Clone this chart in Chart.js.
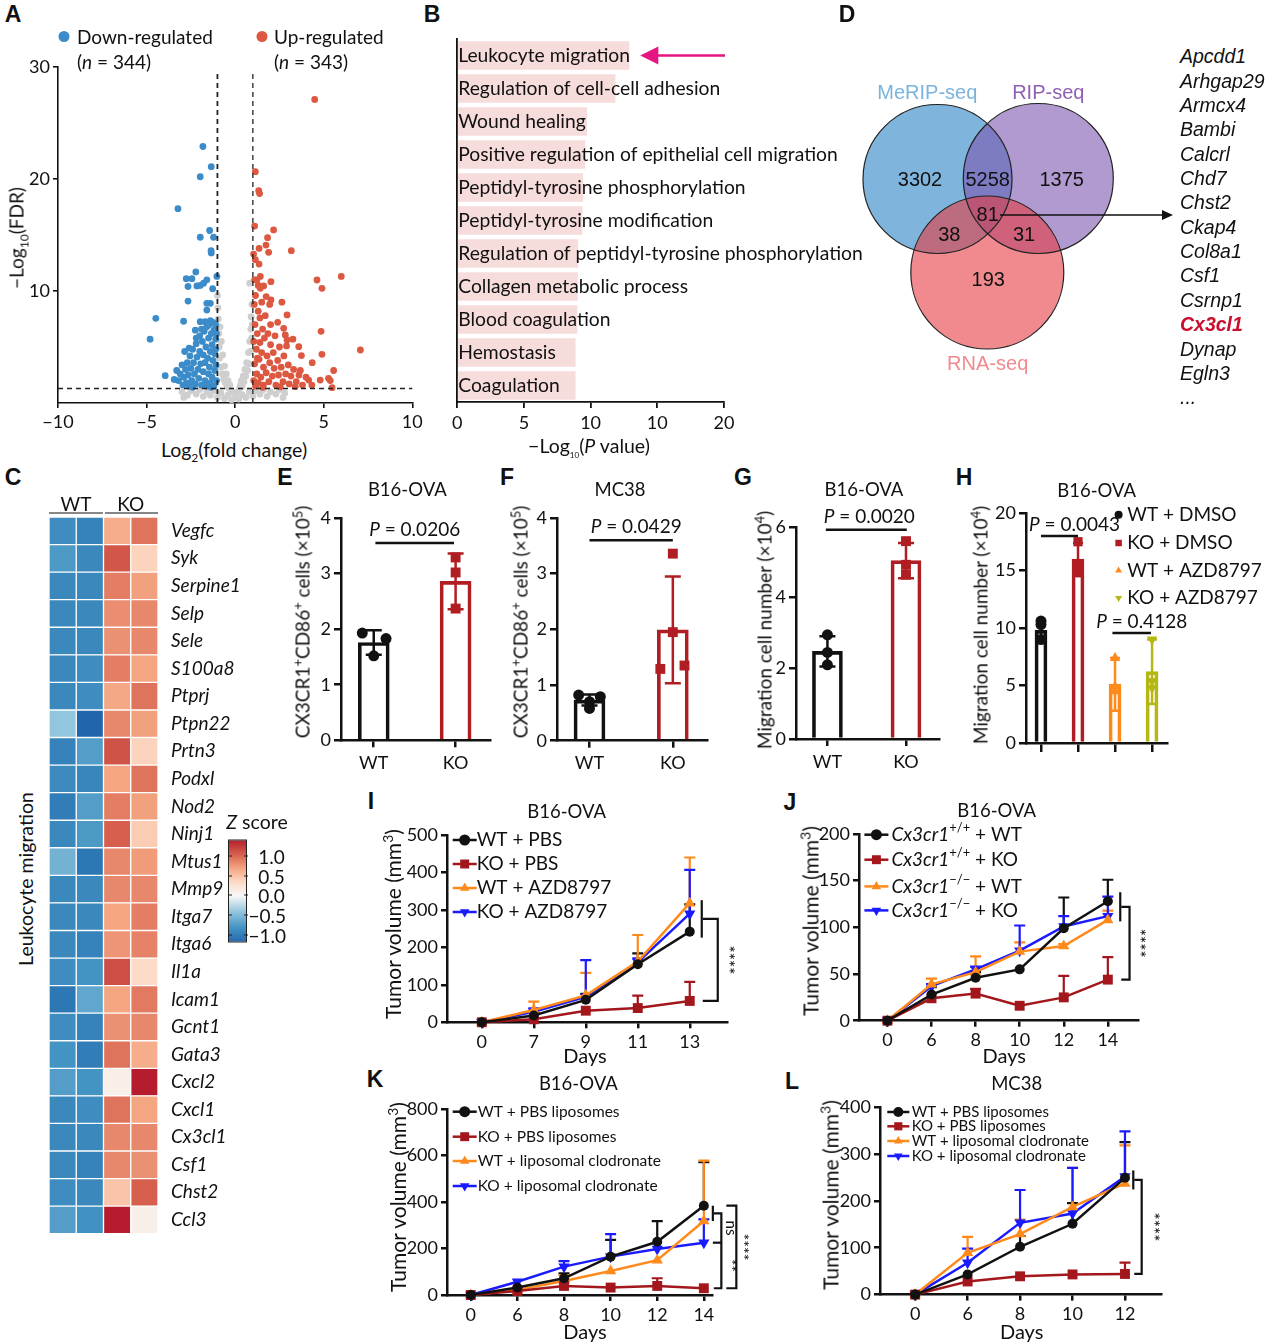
<!DOCTYPE html>
<html lang="en">
<head>
<meta charset="UTF-8" />
<title>Cx3cl1 figure</title>
<script src="https://cdn.jsdelivr.net/npm/chart.js"></script>
<style>
  body { margin: 0; background: #fff; }
  #fig { position: relative; width: 1271px; height: 1344px; overflow: hidden; background: #fff;
         font-family: Lato, "Open Sans", sans-serif; color: #111; }
  #fig canvas { position: absolute; }
  .t { position: absolute; white-space: nowrap; line-height: 1; z-index: 5; }
  .L { font-family: "Liberation Sans", Arial, sans-serif; font-weight: bold; font-size: 23px; }
  .ar { font-family: "Liberation Sans", Arial, sans-serif; }
  sub, sup { line-height: 0; }
</style>
</head>
<body>
<div id="fig"></div>
<script>
// ---------- A: volcano ----------
const volcanoDown = [
  [-1.82,22.9],[-1.35,21.1],[-1.97,20.2],[-3.23,17.35],[-1.44,15.4],[-1.97,14.8],[-1.22,14.8],[-1.36,13.6],[-1.35,13.4],
  [-2.22,11.7],[-2.76,11.1],[-2.44,11.1],[-1.6,11.0],[-1.03,11.3],[-2.16,10.45],[-1.97,10.5],[-1.78,10.7],[-2.66,10.4],
  [-1.27,10.2],[-2.66,9.1],[-1.6,8.9],[-1.4,8.9],[-1.6,8.3],[-4.48,7.56],[-2.91,7.3],[-1.97,7.26],[-1.69,7.26],[-1.4,7.35],
  [-4.8,5.7],[-2.25,6.5],[-3.95,2.44],[-3.44,2.1],
  [-3.2,2.0],[-3.1,2.6],[-3.0,3.4],[-2.95,1.6],[-2.9,2.3],[-2.8,3.0],[-2.75,1.8],[-2.7,3.6],[-2.65,2.5],[-2.6,1.5],
  [-2.55,4.2],[-2.5,3.1],[-2.45,2.0],[-2.4,4.8],[-2.35,3.6],[-2.3,2.6],[-2.25,1.7],[-2.2,5.3],[-2.15,4.1],[-2.1,3.0],
  [-2.05,2.2],[-2.0,6.0],[-2.0,4.6],[-1.95,3.5],[-1.9,1.6],[-1.85,5.5],[-1.8,2.8],[-1.8,4.3],[-1.75,6.4],[-1.7,3.6],
  [-1.7,2.0],[-1.65,5.0],[-1.6,6.8],[-1.6,1.5],[-1.55,4.0],[-1.5,2.6],[-1.5,5.8],[-1.45,3.2],[-1.45,7.0],[-1.4,4.6],
  [-1.4,1.8],[-1.35,6.2],[-1.3,2.3],[-1.3,5.2],[-1.25,3.8],[-1.25,7.2],[-1.2,6.5],[-1.2,1.5],[-1.15,4.4],[-1.15,2.9],
  [-1.1,5.7],[-1.1,7.0],[-1.08,3.4],[-1.05,6.2],[-1.05,2.0],[-2.6,4.9],[-2.2,5.8],[-1.9,6.6],[-3.3,2.9],[-2.85,4.6],
  [-1.65,7.2],[-1.35,1.4],[-2.4,1.4],[-1.1,4.8]
];
const volcanoUp = [
  [4.49,27.1],[1.14,20.65],[1.33,18.95],[1.38,18.7],[1.1,15.8],[2.17,15.45],[1.83,14.76],[1.74,14.1],[1.35,13.8],
  [1.89,13.45],[3.17,13.6],[1.04,13.3],[1.14,12.8],[4.62,10.98],[5.99,11.3],[4.9,10.24],[1.42,11.3],[1.23,11.0],
  [2.02,10.83],[1.61,10.45],[1.42,10.24],[2.64,9.0],[2.93,7.86],[2.02,9.2],[2.74,6.67],[4.85,6.4],[2.83,6.07],[2.93,5.63],
  [3.26,5.7],[3.59,5.03],[7.07,4.73],[4.9,4.35],[3.74,4.23],[4.35,3.6],[5.56,2.9],[3.68,2.9],[4.8,2.05],[5.27,2.2],
  [5.37,2.0],[5.47,1.37],[4.15,2.05],[4.33,1.6],[3.39,1.46],
  [1.05,2.0],[1.05,5.5],[1.08,8.8],[1.1,3.5],[1.12,7.0],[1.15,1.5],[1.15,9.6],[1.2,4.8],[1.22,2.6],[1.25,6.2],
  [1.3,8.2],[1.3,1.8],[1.35,3.9],[1.4,5.4],[1.4,7.6],[1.45,2.3],[1.5,9.0],[1.5,4.5],[1.55,6.6],[1.6,1.6],
  [1.6,3.2],[1.65,5.8],[1.7,7.8],[1.75,2.7],[1.8,4.2],[1.85,6.2],[1.9,1.9],[1.95,3.6],[2.0,5.2],[2.0,7.0],
  [2.1,2.4],[2.15,4.5],[2.2,3.1],[2.25,6.0],[2.3,1.6],[2.4,3.8],[2.45,2.5],[2.5,5.0],[2.6,3.2],[2.7,1.9],
  [2.75,4.2],[2.85,2.6],[3.0,3.4],[3.05,1.7],[3.15,2.4],[3.3,3.0],[3.45,1.9],[3.6,2.5],[3.8,1.6],[4.0,2.3],
  [1.1,11.0],[1.3,10.5],[1.75,9.5],[2.4,7.2],[1.95,8.8],[2.9,5.1],[1.35,12.4],[1.55,1.4],[2.55,1.45],[1.25,4.0]
];
const volcanoNs = [
  [-3.0,1.0],[-2.7,0.7],[-2.5,1.1],[-2.2,0.8],[-2.0,1.2],[-1.8,0.6],[-1.6,1.0],[-1.4,0.7],[-1.2,1.1],[-1.0,0.5],
  [-0.8,0.9],[-0.6,0.4],[-0.4,0.7],[-0.2,0.3],[0.0,0.5],[0.2,0.35],[0.4,0.75],[0.6,0.5],[0.8,1.0],[1.0,0.6],
  [1.2,1.1],[1.4,0.8],[1.6,1.2],[1.8,0.6],[2.0,1.0],[2.3,0.8],[2.5,1.2],[2.8,0.9],[-2.9,0.5],[2.7,0.5],
  [-0.95,7.5],[-0.92,6.2],[-0.9,5.0],[-0.88,4.0],[-0.85,6.8],[-0.8,3.2],[-0.78,5.5],[-0.72,2.6],[-0.7,4.3],[-0.65,2.1],
  [-0.6,3.3],[-0.55,1.8],[-0.5,2.6],[-0.45,1.5],[-0.4,2.0],[-0.35,1.3],[-0.3,1.6],[-0.25,1.1],[-0.15,1.0],[-1.0,9.6],
  [-0.97,8.5],[0.15,1.0],[0.25,1.3],[0.3,1.6],[0.35,2.0],[0.4,1.5],[0.45,2.4],[0.5,1.9],[0.55,3.0],[0.6,2.4],
  [0.65,3.6],[0.7,2.9],[0.75,4.5],[0.8,3.5],[0.82,5.5],[0.86,4.6],[0.88,6.6],[0.9,7.7],[0.93,5.8],[0.95,8.8],
  [0.82,10.7],[0.97,7.0]
];
const fcCut = 1, fdrCut = 1.3;

// ---------- B: GO terms ----------
const goTerms = ['Leukocyte migration','Regulation of cell-cell adhesion','Wound healing',
  'Positive regulation of epithelial cell migration','Peptidyl-tyrosine phosphorylation',
  'Peptidyl-tyrosine modification','Regulation of peptidyl-tyrosine phosphorylation',
  'Collagen metabolic process','Blood coagulation','Hemostasis','Coagulation'];
const goLogP = [12.9, 11.86, 9.73, 9.6, 9.44, 9.39, 9.07, 9.04, 9.0, 8.87, 8.87];
const goTicks = [0, 5, 10, 15, 20];
const goTickLabels = ['0', '5', '10', '10', '20'];

// ---------- C: heatmap ----------
const heatSamples = ['WT', 'WT', 'KO', 'KO'];
const heatGenes = ['Vegfc','Syk','Serpine1','Selp','Sele','S100a8','Ptprj','Ptpn22','Prtn3','Podxl','Nod2','Ninj1',
  'Mtus1','Mmp9','Itga7','Itga6','Il1a','Icam1','Gcnt1','Gata3','Cxcl2','Cxcl1','Cx3cl1','Csf1','Chst2','Ccl3'];
const heatZ = [
  [-0.85,-0.95,0.65,0.95],[-0.75,-0.9,1.1,0.4],[-0.9,-0.9,0.9,0.72],[-0.9,-0.9,0.82,0.85],[-0.9,-0.9,0.8,0.85],
  [-0.9,-0.85,0.9,0.7],[-0.9,-0.85,0.68,0.95],[-0.4,-1.2,0.85,0.72],[-0.95,-0.72,1.12,0.4],[-0.88,-0.92,0.7,0.95],
  [-1.0,-0.72,0.9,0.72],[-0.9,-0.75,1.05,0.45],[-0.55,-1.05,0.85,0.75],[-0.9,-0.9,0.85,0.85],[-0.9,-0.9,0.7,0.9],
  [-0.9,-0.95,0.78,0.88],[-0.85,-0.8,1.15,0.35],[-1.05,-0.65,0.7,0.92],[-0.85,-0.95,0.8,0.85],[-0.8,-1.0,0.95,0.65],
  [-0.72,-0.8,0.1,1.42],[-0.9,-0.85,0.95,0.7],[-0.9,-0.9,0.85,0.85],[-0.9,-0.95,0.85,0.8],[-0.85,-0.9,0.5,1.05],
  [-0.72,-0.82,1.42,0.1]
];
const zTicks = [1.0, 0.5, 0.0, -0.5, -1.0];

// ---------- D: Venn ----------
const vennSets = ['MeRIP-seq', 'RIP-seq', 'RNA-seq'];
const vennCounts = [3302, 5258, 1375, 81, 38, 31, 193];
const overlapGenes = ['Apcdd1','Arhgap29','Armcx4','Bambi','Calcrl','Chd7','Chst2','Ckap4','Col8a1','Csf1','Csrnp1','Cx3cl1','Dynap','Egln3','...'];

// ---------- E-H: bar + dots ----------
const groups2 = ['WT', 'KO'];
const eMean = [1.76, 2.86], eSd = [0.22, 0.5];
const eWT = [1.93, 1.52, 1.83], eKO = [3.29, 3.02, 2.37];
const eWTjit = [-0.14, 0, 0.15], eKOjit = [0, 0, 0];
const fMean = [0.73, 1.99], fSd = [0.1, 0.96];
const fWT = [0.82, 0.58, 0.79, 0.7], fKO = [3.36, 1.95, 1.29, 1.35];
const fWTjit = [-0.13, 0, 0.13, 0], fKOjit = [0, 0, -0.15, 0.14];
const gMean = [2.48, 5.05], gSd = [0.43, 0.5];
const gWT = [2.95, 2.45, 2.1], gKO = [5.6, 4.93, 4.65];
const hGroups = ['WT + DMSO', 'KO + DMSO', 'WT + AZD8797', 'KO + AZD8797'];
const hMean = [9.8, 16.0, 5.1, 6.2], hSd = [0.9, 1.4, 2.3, 2.8];
const hPts = [[10.6, 10.3, 9.0], [17.5, 15.5, 14.8], [7.4, 4.9, 4.5], [9.0, 5.4, 4.8]];
const pE = '0.0206', pF = '0.0429', pG = '0.0020', pH1 = '0.0043', pH2 = '0.4128';

// ---------- I-L: tumour growth ----------
const dayI = ['0', '7', '9', '11', '13'];
const iSeries = ['WT + PBS', 'KO + PBS', 'WT + AZD8797', 'KO + AZD8797'];
const iMean = [[0, 18, 60, 155, 242], [0, 8, 31, 38, 57], [0, 33, 72, 162, 318], [0, 28, 68, 160, 290]];
const iSd = [[0, 8, 16, 29, 73], [0, 0, 0, 33, 51], [0, 22, 60, 71, 122], [0, 9, 98, 11, 117]];
const dayJ = ['0', '6', '8', '10', '12', '14'];
const jSeries = [['+/+', ' + WT'], ['+/+', ' + KO'], ['\u2212/\u2212', ' + WT'], ['\u2212/\u2212', ' + KO']];
const jMean = [[0, 28, 46, 55, 99, 128], [0, 24, 29, 16, 25, 44], [0, 39, 52, 74, 80, 108], [0, 37, 55, 75, 101, 112]];
const jSd = [[0, 8, 6, 0, 33, 23], [0, 0, 5, 0, 23, 24], [0, 6, 17, 10, 2, 10], [0, 2, 3, 27, 11, 21]];
const dayK = ['0', '6', '8', '10', '12', '14'];
const kSeries = ['WT + PBS liposomes', 'KO + PBS liposomes', 'WT + liposomal clodronate', 'KO + liposomal clodronate'];
const kMean = [[0, 32, 72, 165, 229, 384], [0, 17, 39, 32, 39, 29], [0, 22, 60, 103, 150, 318], [0, 57, 122, 165, 198, 225]];
const kSd = [[0, 0, 21, 72, 89, 187], [0, 0, 18, 0, 33, 0], [0, 0, 26, 0, 0, 260], [0, 0, 24, 97, 0, 100]];
const dayL = ['0', '6', '8', '10', '12'];
const lMean = [[0, 43, 102, 151, 249], [0, 28, 39, 43, 44], [0, 89, 129, 187, 237], [0, 68, 153, 173, 252]];
const lSd = [[0, 0, 23, 44, 76], [0, 0, 0, 0, 24], [0, 34, 31, 83, 81], [0, 30, 70, 97, 96]];

// ---------- styling ----------
const FONT = 'Lato, "Open Sans", sans-serif';
const ARIAL = '"Liberation Sans", Arial, sans-serif';
const BLK = '#111111', RED = '#b01e23', DRED = '#a3161c', ORG = '#ff8a1c', BLU = '#1a1aff', OLV = '#b5b812';
const seriesColors = [BLK, DRED, ORG, BLU];
const seriesStyles = [['circle', 0, 5], ['rect', 0, 7], ['triangle', 0, 6.5], ['triangle', 180, 6.5]];
Chart.defaults.font.family = FONT;
Chart.defaults.color = '#111';

const fig = document.getElementById('fig');

function txt(x, y, html, css, anchor, rot) {
  const d = document.createElement('div');
  d.className = 't';
  d.innerHTML = html;
  d.style.cssText += 'left:' + x + 'px;top:' + y + 'px;' + (css || '');
  const tx = anchor === 'l' ? '0' : anchor === 'r' ? '-100%' : '-50%';
  d.style.transform = 'translate(' + tx + ',-50%)' + (rot ? ' rotate(' + rot + 'deg)' : '');
  fig.appendChild(d);
  return d;
}

function rich(ctx, parts, x, y, align, fs, fam) {
  fam = fam || FONT;
  const f = st => (st.includes('i') ? 'italic ' : '') + (st.includes('b') ? 'bold ' : '') +
    (st.includes('s') ? Math.round(fs * 0.7) : fs) + 'px ' + fam;
  ctx.save();
  ctx.textBaseline = 'middle';
  ctx.textAlign = 'left';
  let w = 0;
  parts.forEach(p => { ctx.font = f(p[1] || ''); w += ctx.measureText(p[0]).width; });
  let cx = align === 'center' ? x - w / 2 : align === 'right' ? x - w : x;
  parts.forEach(p => {
    const st = p[1] || '';
    ctx.font = f(st);
    ctx.fillText(p[0], cx, y + (st.includes('s') ? -fs * 0.36 : 0));
    cx += ctx.measureText(p[0]).width;
  });
  ctx.restore();
}

function axis(min, max, vals, fmt, o) {
  o = o || {};
  const lw = o.lw === undefined ? 2.5 : o.lw;
  return {
    type: 'linear', min: min, max: max, offset: false,
    border: {color: '#111', width: lw},
    grid: {display: o.grid !== false, drawOnChartArea: false, drawTicks: true, offset: false,
           tickLength: o.tl === undefined ? 7 : o.tl, color: '#111', lineWidth: lw},
    ticks: {font: {size: o.fs || 18}, color: '#111', padding: o.pad === undefined ? 3 : o.pad,
            maxRotation: 0, autoSkip: false, callback: fmt || (v => v)},
    afterBuildTicks: s => { s.ticks = vals.map(v => ({value: v})); }
  };
}

function place(area, pad, cfg) {
  const x0 = area[0], y0 = area[1], x1 = area[2], y1 = area[3];
  const w = Math.round(x1 - x0 + pad.l + pad.r), h = Math.round(y1 - y0 + pad.t + pad.b);
  const cv = document.createElement('canvas');
  const left = x0 - pad.l, top = y0 - pad.t;
  cv.style.left = left + 'px'; cv.style.top = top + 'px';
  cv.style.width = w + 'px'; cv.style.height = h + 'px';
  cv.width = w; cv.height = h;
  cv.dataset.ox = left; cv.dataset.oy = top;
  fig.appendChild(cv);
  const o = cfg.options = cfg.options || {};
  o.responsive = false; o.maintainAspectRatio = false; o.animation = false; o.devicePixelRatio = 1; o.events = [];
  o.layout = {autoPadding: false, padding: {left: 0, top: pad.t, right: w - pad.l - (x1 - x0), bottom: 0}};
  o.scales.x.afterFit = s => { s.height = h - pad.t - (y1 - y0); };
  o.scales.y.afterFit = s => { s.width = pad.l; };
  o.plugins = Object.assign({legend: {display: false}, tooltip: {enabled: false}}, o.plugins || {});
  return new Chart(cv, cfg);
}

// error bars: lines (up only) under all datasets, bars (both ways) right after their bar
function drawErr(chart, i) {
  const ds = chart.data.datasets[i];
  const meta = chart.getDatasetMeta(i);
  const ys = chart.scales.y, ctx = chart.ctx;
  ctx.save();
  ctx.lineWidth = ds.errWidth || 2.2;
  meta.data.forEach((el, j) => {
    const sd = ds.sd[j];
    if (!sd) return;
    const col = ds.errColor ? (Array.isArray(ds.errColor) ? ds.errColor[j] : ds.errColor) : ds.borderColor;
    ctx.strokeStyle = col;
    const v = ds.data[j].y;
    const x = el.x, yt = ys.getPixelForValue(v + sd);
    const yb = ds.errBoth ? ys.getPixelForValue(v - sd) : ys.getPixelForValue(v);
    const cw = ds.capW || 5;
    ctx.beginPath();
    ctx.moveTo(x, yb); ctx.lineTo(x, yt);
    ctx.moveTo(x - cw, yt); ctx.lineTo(x + cw, yt);
    if (ds.errBoth) { ctx.moveTo(x - cw, yb); ctx.lineTo(x + cw, yb); }
    ctx.stroke();
  });
  ctx.restore();
}
Chart.register({
  id: 'errbars',
  beforeDatasetsDraw(chart) {
    chart.data.datasets.forEach((ds, i) => { if (ds.sd && !ds.errBoth) drawErr(chart, i); });
  },
  afterDatasetDraw(chart, args) {
    const ds = chart.data.datasets[args.index];
    if (ds.sd && ds.errBoth) drawErr(chart, args.index);
  }
});

function pPlugin(specs) {
  return {id: 'pval', afterDraw(c) {
    const ctx = c.ctx, xs = c.scales.x, ys = c.scales.y;
    specs.forEach(s => {
      const y = ys.getPixelForValue(s.y);
      const xa = xs.getPixelForValue(s.from), xb = xs.getPixelForValue(s.to);
      ctx.save(); ctx.strokeStyle = '#111'; ctx.lineWidth = 2.5;
      ctx.beginPath(); ctx.moveTo(xa, y); ctx.lineTo(xb, y); ctx.stroke(); ctx.restore();
      ctx.fillStyle = '#111';
      rich(ctx, [['P', 'i'], [' = ' + s.p]], (xa + xb) / 2 + (s.dx || 0), y - (s.dy || 13), 'center', 19);
    });
  }};
}

function legendPlugin(o) {
  return {id: 'lg', afterDraw(c) {
    const ctx = c.ctx, ox = +c.canvas.dataset.ox, oy = +c.canvas.dataset.oy;
    o.items.forEach((parts, k) => {
      const ds = c.data.datasets[o.ds[k]];
      const y = o.y[k] - oy, mx = o.mx - ox;
      if (o.line) {
        ctx.save(); ctx.strokeStyle = ds.borderColor; ctx.lineWidth = 2.5;
        ctx.beginPath(); ctx.moveTo(mx - o.line, y); ctx.lineTo(mx + o.line, y); ctx.stroke(); ctx.restore();
      }
      ctx.save();
      ctx.fillStyle = ds.pointBackgroundColor || ds.backgroundColor;
      Chart.helpers.drawPoint(ctx, {pointStyle: ds.pointStyle, rotation: ds.pointRotation || 0,
        radius: o.r * (ds.pointStyle === 'rect' ? 1.15 : 1), borderWidth: 0}, mx, y);
      ctx.restore();
      ctx.fillStyle = '#111';
      rich(ctx, parts, o.tx - ox, y, 'left', o.fs);
    });
  }};
}

function polyline(ctx, pts) {
  ctx.beginPath(); ctx.moveTo(pts[0][0], pts[0][1]);
  for (let i = 1; i < pts.length; i++) ctx.lineTo(pts[i][0], pts[i][1]);
  ctx.stroke();
}
function rotText(ctx, t, x, y, fs) {
  ctx.save(); ctx.translate(x, y); ctx.rotate(Math.PI / 2);
  ctx.font = fs + 'px ' + FONT; ctx.textAlign = 'center'; ctx.textBaseline = 'middle'; ctx.fillStyle = '#111';
  ctx.fillText(t, 0, 0); ctx.restore();
}
// group bracket: short bar over the three treated groups, ] down to the KO group
function groupBracket(means, o) {
  return {id: 'sig', afterDraw(c) {
    const ctx = c.ctx, xs = c.scales.x, ys = c.scales.y;
    const n = means[0].length - 1;
    const xl = xs.getPixelForValue(n);
    const g = [means[0][n], means[2][n], means[3][n]];
    const top = ys.getPixelForValue(Math.max.apply(null, g)) - o.et;
    const bot = ys.getPixelForValue(Math.min.apply(null, g)) + o.eb;
    const mid = (top + bot) / 2, red = ys.getPixelForValue(means[1][n]);
    ctx.save(); ctx.strokeStyle = '#111'; ctx.lineWidth = 2.2;
    polyline(ctx, [[xl + o.x1, top], [xl + o.x1, bot]]);
    polyline(ctx, [[xl + o.x1 + 1, mid], [xl + o.x2, mid], [xl + o.x2, red], [xl + o.x1 + 1, red]]);
    ctx.restore();
    rotText(ctx, '****', xl + o.xs, (mid + red) / 2, 17);
  }};
}

function lineSets(means, sds, colors) {
  return means.map((m, s) => ({
    type: 'line', data: m.map((v, i) => ({x: i, y: v})), sd: sds[s],
    borderColor: colors[s], backgroundColor: colors[s], pointBackgroundColor: colors[s],
    borderWidth: 2.5, pointBorderWidth: 0, pointStyle: seriesStyles[s][0], pointRotation: seriesStyles[s][1],
    pointRadius: seriesStyles[s][2], tension: 0, clip: false, capW: 5.5
  }));
}

function hexRgb(c) { return [parseInt(c.slice(1, 3), 16), parseInt(c.slice(3, 5), 16), parseInt(c.slice(5, 7), 16)]; }
const zStops = [[-1.2, '#2166ac'], [-0.8, '#4393c3'], [-0.4, '#92c5de'], [0, '#f7f7f7'],
                [0.35, '#fddbc7'], [0.7, '#f4a582'], [1.05, '#d6604d'], [1.45, '#b2182b']];
function zColor(z) {
  if (z <= zStops[0][0]) return zStops[0][1];
  for (let i = 1; i < zStops.length; i++) {
    if (z <= zStops[i][0]) {
      const t = (z - zStops[i - 1][0]) / (zStops[i][0] - zStops[i - 1][0]);
      const a = hexRgb(zStops[i - 1][1]), b = hexRgb(zStops[i][1]);
      return 'rgb(' + a.map((v, k) => Math.round(v + (b[k] - v) * t)).join(',') + ')';
    }
  }
  return zStops[zStops.length - 1][1];
}

const minus = v => v < 0 ? '\u2212' + Math.abs(v) : String(v);

// ================= A =================
place([57.7, 67, 412, 403], {l: 50, t: 20, r: 22, b: 34}, {
  type: 'scatter',
  data: {datasets: [
    {data: volcanoNs, backgroundColor: '#cfcfcf', pointRadius: 3.4, borderWidth: 0, order: 3},
    {data: volcanoDown, backgroundColor: '#3b8cc9', pointRadius: 3.4, borderWidth: 0, order: 1},
    {data: volcanoUp, backgroundColor: '#dc5840', pointRadius: 3.4, borderWidth: 0, order: 1}
  ]},
  options: {scales: {
    x: axis(-10, 10, [-10, -5, 0, 5, 10], minus, {lw: 1.6, tl: 5, fs: 18, pad: 3}),
    y: axis(0, 30, [10, 20, 30], null, {lw: 1.6, tl: 5, fs: 18, pad: 3})
  }},
  plugins: [{id: 'cut', afterDatasetsDraw(c) {
    const ctx = c.ctx, xs = c.scales.x, ys = c.scales.y;
    ctx.save(); ctx.strokeStyle = '#222'; ctx.setLineDash([5, 4]);
    ctx.lineWidth = 1.8;
    polyline(ctx, [[xs.getPixelForValue(-fcCut), ys.getPixelForValue(0)], [xs.getPixelForValue(-fcCut), ys.getPixelForValue(29.4)]]);
    ctx.lineWidth = 1.3;
    polyline(ctx, [[xs.getPixelForValue(fcCut), ys.getPixelForValue(0)], [xs.getPixelForValue(fcCut), ys.getPixelForValue(29.4)]]);
    ctx.lineWidth = 1.5;
    polyline(ctx, [[xs.getPixelForValue(-10), ys.getPixelForValue(fdrCut)], [xs.getPixelForValue(10), ys.getPixelForValue(fdrCut)]]);
    ctx.restore();
  }}]
});

// ================= B =================
place([452.3, 38.5, 724.3, 401.5], {l: 4, t: 16, r: 160, b: 34}, {
  type: 'bar',
  data: {labels: goTerms, datasets: [{data: goLogP, backgroundColor: '#f7dcdc', borderWidth: 0,
    barPercentage: 0.857, categoryPercentage: 1}]},
  options: {
    indexAxis: 'y',
    scales: {
      x: axis(0, 20, goTicks, (v, i) => goTickLabels[i], {lw: 1.8, tl: 6, fs: 18, pad: 4}),
      y: {type: 'category', offset: true, border: {color: '#111', width: 1.8}, grid: {display: false},
          ticks: {mirror: true, padding: 1, z: 1, font: {size: 19.3}, color: '#111', autoSkip: false}}
    }
  },
  plugins: [{id: 'arrow', afterDraw(c) {
    const ctx = c.ctx, xs = c.scales.x, ys = c.scales.y;
    const y = ys.getPixelForValue(0);
    const tip = xs.getPixelForValue(goLogP[0]) + 11, end = xs.getPixelForValue(20) + 1;
    ctx.save(); ctx.strokeStyle = '#e6157f'; ctx.fillStyle = '#e6157f'; ctx.lineWidth = 2.5;
    polyline(ctx, [[tip + 10, y], [end, y]]);
    ctx.beginPath(); ctx.moveTo(tip, y); ctx.lineTo(tip + 18, y - 9); ctx.lineTo(tip + 18, y + 9); ctx.closePath(); ctx.fill();
    ctx.restore();
  }}]
});

// ================= C (heatmap) =================
(function () {
  const x0 = 49.3, y0 = 517.3, x1 = 158.7, y1 = 1234, lab = 100, m = 20;
  const w = Math.round(x1 - x0 + lab), h = Math.round(y1 - y0 + 2 * m);
  const cv = document.createElement('canvas');
  cv.style.left = x0 + 'px'; cv.style.top = (y0 - m) + 'px';
  cv.style.width = w + 'px'; cv.style.height = h + 'px'; cv.width = w; cv.height = h;
  fig.appendChild(cv);
  const n = heatGenes.length;
  const sets = [];
  for (let g = n - 1; g >= 0; g--) {
    sets.push({data: heatSamples.map(() => 1), backgroundColor: heatZ[g].map(zColor), borderColor: '#ffffff',
      borderWidth: 1, borderSkipped: false, barPercentage: 1, categoryPercentage: 1});
  }
  new Chart(cv, {
    type: 'bar',
    data: {labels: heatSamples, datasets: sets},
    options: {
      responsive: false, animation: false, devicePixelRatio: 1, events: [],
      layout: {autoPadding: false, padding: {top: m, bottom: h - m - (y1 - y0), left: 0, right: 0}},
      plugins: {legend: {display: false}, tooltip: {enabled: false}},
      scales: {
        x: {type: 'category', display: false, stacked: true},
        y: {type: 'linear', display: false, stacked: true, min: 0, max: n},
        yl: {type: 'linear', position: 'right', min: 0, max: n, border: {display: false}, grid: {display: false},
             ticks: {padding: 5, font: {size: 19, style: 'italic'}, color: '#111', autoSkip: false,
                     callback: v => heatGenes[Math.round(n - v - 0.5)]},
             afterBuildTicks: s => { s.ticks = heatGenes.map((g, i) => ({value: n - i - 0.5})); },
             afterFit: s => { s.width = lab; }}
      }
    }
  });
})();

// ================= D (Venn) =================
(function () {
  const L = 850, T = 70, W = 330, H = 310;
  const cv = document.createElement('canvas');
  cv.style.left = L + 'px'; cv.style.top = T + 'px';
  cv.style.width = W + 'px'; cv.style.height = H + 'px'; cv.width = W; cv.height = H;
  fig.appendChild(cv);
  const vennCircles = [{x: 937.5, y: 179, r: 74.5}, {x: 1038.3, y: 178.5, r: 75}, {x: 987.3, y: 272.5, r: 76.5}];
  const vennFill = ['rgba(42,130,197,0.6)', 'rgba(123,87,177,0.6)', 'rgba(230,60,67,0.6)'];
  const vennCountPos = [[920, 180], [987.7, 180], [1061.7, 180], [987.7, 215], [949.3, 235], [1024, 235], [988.3, 280]];
  const sets = vennCircles.map((c, i) => ({data: [c], backgroundColor: vennFill[i], borderWidth: 0, order: 10 - i, clip: false}))
    .concat(vennCircles.map(c => ({data: [c], backgroundColor: 'rgba(0,0,0,0)', borderColor: '#222', borderWidth: 1.2, order: 0, clip: false})));
  new Chart(cv, {
    type: 'bubble',
    data: {datasets: sets},
    options: {
      responsive: false, animation: false, devicePixelRatio: 1, events: [],
      layout: {autoPadding: false, padding: 0},
      plugins: {legend: {display: false}, tooltip: {enabled: false}},
      scales: {x: {type: 'linear', display: false, min: L, max: L + W},
               y: {type: 'linear', display: false, min: T, max: T + H, reverse: true}}
    },
    plugins: [{id: 'vennText', afterDraw(c) {
      const ctx = c.ctx, xs = c.scales.x, ys = c.scales.y;
      ctx.save(); ctx.fillStyle = '#111'; ctx.font = '20px ' + ARIAL; ctx.textAlign = 'center'; ctx.textBaseline = 'middle';
      vennCounts.forEach((v, i) => ctx.fillText(String(v), xs.getPixelForValue(vennCountPos[i][0]), ys.getPixelForValue(vennCountPos[i][1])));
      const y = ys.getPixelForValue(215), xa = xs.getPixelForValue(1000), xb = xs.getPixelForValue(1173);
      ctx.strokeStyle = '#111'; ctx.lineWidth = 1.3;
      polyline(ctx, [[xa, y], [xb - 8, y]]);
      ctx.beginPath(); ctx.moveTo(xb, y); ctx.lineTo(xb - 11, y - 5); ctx.lineTo(xb - 11, y + 5); ctx.closePath(); ctx.fill();
      ctx.restore();
    }}]
  });
})();

// ================= E =================
function dotSets(groupPts, jit, styles, colors, radii) {
  return groupPts.map((pts, gi) => ({
    type: 'scatter', data: pts.map((v, k) => ({x: gi + (jit ? jit[gi][k] : 0), y: v})),
    pointStyle: styles[gi][0], pointRotation: styles[gi][1], pointRadius: radii[gi],
    backgroundColor: colors[gi], pointBackgroundColor: colors[gi], borderWidth: 0, order: 1, clip: false
  }));
}
function barSet(means, sds, colors, thick, cap) {
  return {type: 'bar', data: means.map((m, i) => ({x: i, y: m})), sd: sds, errBoth: true, capW: cap,
    errColor: colors, errWidth: 2.5, backgroundColor: 'rgba(255,255,255,0)', borderColor: colors,
    borderWidth: 3, barThickness: thick, order: 2};
}
const twoStyles = [['circle', 0], ['rect', 0]];

place([341, 517.7, 490, 740], {l: 46, t: 20, r: 15, b: 38}, {
  type: 'bar',
  data: {datasets: [barSet(eMean, eSd, [BLK, RED], 31, 8)].concat(
    dotSets([eWT, eKO], [eWTjit, eKOjit], twoStyles, [BLK, RED], [5.5, 7]))},
  options: {scales: {x: axis(-0.4, 1.42, [0, 1], v => groups2[Math.round(v)], {pad: 5}),
                     y: axis(0, 4, [0, 1, 2, 3, 4])}},
  plugins: [pPlugin([{from: 0.02, to: 0.98, y: 3.55, p: pE}])]
});

// ================= F =================
place([556.7, 518, 706.7, 740.7], {l: 46, t: 20, r: 15, b: 38}, {
  type: 'bar',
  data: {datasets: [barSet(fMean, fSd, [BLK, RED], 31, 8)].concat(
    dotSets([fWT, fKO], [fWTjit, fKOjit], twoStyles, [BLK, RED], [5.5, 7]))},
  options: {scales: {x: axis(-0.39, 1.41, [0, 1], v => groups2[Math.round(v)], {pad: 5}),
                     y: axis(0, 4, [0, 1, 2, 3, 4])}},
  plugins: [pPlugin([{from: 0, to: 1, y: 3.6, p: pF, dx: 5}])]
});

// ================= G =================
place([795.6, 527.3, 938.6, 739.3], {l: 46, t: 20, r: 15, b: 38}, {
  type: 'bar',
  data: {datasets: [barSet(gMean, gSd, [BLK, RED], 30, 8)].concat(
    dotSets([gWT, gKO], null, twoStyles, [BLK, RED], [5.5, 7]))},
  options: {scales: {x: axis(-0.4, 1.42, [0, 1], v => groups2[Math.round(v)], {pad: 5}),
                     y: axis(0, 6, [0, 2, 4, 6])}},
  plugins: [pPlugin([{from: -0.02, to: 1.01, y: 5.92, p: pG, dx: 3}])]
});

// ================= H =================
const hColors = [BLK, RED, ORG, OLV];
place([1025.7, 513.3, 1167.3, 743.3], {l: 40, t: 20, r: 100, b: 30}, {
  type: 'bar',
  data: {datasets: [barSet(hMean, hSd, hColors, 12, 5)].concat(
    dotSets(hPts, null, seriesStyles.map(s => [s[0], s[1]]), hColors, [5.5, 6.5, 6, 6]))},
  options: {scales: {x: axis(-0.405, 3.42, [0, 1, 2, 3], () => '', {tl: 9}),
                     y: axis(0, 20, [0, 5, 10, 15, 20])}},
  plugins: [pPlugin([{from: 0, to: 1, y: 18.0, p: pH1, dx: 15, dy: 11}, {from: 1.93, to: 2.97, y: 9.56, p: pH2, dx: 10, dy: 11}]),
            legendPlugin({items: hGroups.map(g => [[g]]), ds: [1, 2, 3, 4], mx: 1118.3, tx: 1127, y: [515, 543.3, 570.7, 598.3], r: 4, fs: 19})]
});

// ================= I =================
place([447.3, 835, 728, 1022.3], {l: 45, t: 20, r: 28, b: 34}, {
  type: 'line',
  data: {datasets: lineSets(iMean, iSd, seriesColors)},
  options: {scales: {x: axis(-0.67, 4.73, [0, 1, 2, 3, 4], v => dayI[Math.round(v)], {tl: 6}),
                     y: axis(0, 500, [0, 100, 200, 300, 400, 500], null, {tl: 6})}},
  plugins: [groupBracket(iMean, {x1: 12, x2: 28, xs: 38, et: 3, eb: 6}),
            legendPlugin({items: iSeries.map(s => [[s]]), ds: [0, 1, 2, 3], mx: 465, tx: 477, y: [840, 864, 888, 912], r: 5.5, fs: 19, line: 12})]
});

// ================= J =================
place([859.3, 834.3, 1139, 1021], {l: 45, t: 20, r: 25, b: 34}, {
  type: 'line',
  data: {datasets: lineSets(jMean, jSd, seriesColors)},
  options: {scales: {x: axis(-0.645, 5.7, [0, 1, 2, 3, 4, 5], v => dayJ[Math.round(v)], {tl: 6}),
                     y: axis(0, 200, [0, 50, 100, 150, 200], null, {tl: 6})}},
  plugins: [groupBracket(jMean, {x1: 12.4, x2: 21.7, xs: 31, et: 9, eb: 1.5}),
            legendPlugin({items: jSeries.map(s => [['Cx3cr1', 'i'], [s[0], 's'], [s[1]]]), ds: [0, 1, 2, 3],
                          mx: 876.7, tx: 891.7, y: [835, 860, 886.7, 910.7], r: 5.5, fs: 19, line: 12})]
});

// ================= K =================
place([447.3, 1109, 713, 1295], {l: 45, t: 20, r: 40, b: 32}, {
  type: 'line',
  data: {datasets: lineSets(kMean, kSd, seriesColors)},
  options: {scales: {x: axis(-0.51, 5.19, [0, 1, 2, 3, 4, 5], v => dayK[Math.round(v)], {tl: 6}),
                     y: axis(0, 800, [0, 200, 400, 600, 800], null, {tl: 6})}},
  plugins: [{id: 'sigK', afterDraw(c) {
      const ctx = c.ctx, xs = c.scales.x, ys = c.scales.y, n = dayK.length - 1;
      const xl = xs.getPixelForValue(n);
      const yB = ys.getPixelForValue(kMean[0][n]), yO = ys.getPixelForValue(kMean[2][n]);
      const yBl = ys.getPixelForValue(kMean[3][n]), yR = ys.getPixelForValue(kMean[1][n]);
      const mid = (yB + yO) / 2;
      ctx.save(); ctx.strokeStyle = '#111'; ctx.lineWidth = 2.2;
      polyline(ctx, [[xl + 9, yB], [xl + 9, yO]]);
      polyline(ctx, [[xl + 10, mid], [xl + 17.5, mid], [xl + 17.5, yR], [xl + 10, yR]]);
      polyline(ctx, [[xl + 9, yBl], [xl + 17.5, yBl]]);
      polyline(ctx, [[xl + 22.5, yB], [xl + 32.5, yB], [xl + 32.5, yR], [xl + 22.5, yR]]);
      ctx.restore();
      rotText(ctx, 'ns', xl + 27.5, (mid + yBl) / 2, 15);
      rotText(ctx, '**', xl + 27.5, (yBl + yR) / 2, 15);
      rotText(ctx, '****', xl + 39, (yB + yR) / 2, 16);
    }},
    legendPlugin({items: kSeries.map(s => [[s]]), ds: [0, 1, 2, 3], mx: 465, tx: 478, y: [1111.7, 1136.7, 1161, 1186], r: 5.5, fs: 15.5, line: 12})]
});

// ================= L =================
place([880, 1106.7, 1161.7, 1294.3], {l: 45, t: 20, r: 30, b: 32}, {
  type: 'line',
  data: {datasets: lineSets(lMean, lSd, seriesColors)},
  options: {scales: {x: axis(-0.67, 4.7, [0, 1, 2, 3, 4], v => dayL[Math.round(v)], {tl: 6}),
                     y: axis(0, 400, [0, 100, 200, 300, 400], null, {tl: 6})}},
  plugins: [groupBracket(lMean, {x1: 8.3, x2: 16.7, xs: 27.7, et: 6, eb: 6}),
            legendPlugin({items: kSeries.map(s => [[s]]), ds: [0, 1, 2, 3], mx: 898.3, tx: 911.7, y: [1111.7, 1126, 1140.7, 1155.7], r: 5, fs: 15, line: 11})]
});

// ================= text overlay =================
[['A', 13, 14], ['B', 432, 14], ['D', 847, 14], ['C', 13, 477], ['E', 285, 477], ['F', 507, 477], ['G', 743, 477],
 ['H', 964, 477], ['I', 371, 801], ['J', 790, 802], ['K', 375, 1079], ['L', 792, 1081]].forEach(p => txt(p[1], p[2], p[0], '', 'c').classList.add('L'));

// A legend + axis titles
const dot = c => '<span style="display:inline-block;width:11px;height:11px;border-radius:50%;background:' + c + '"></span>';
txt(64, 36, dot('#3b8cc9'), '', 'c');
txt(262, 36, dot('#dc5840'), '', 'c');
txt(77, 36, 'Down-regulated', 'font-size:19px', 'l');
txt(77, 61, '(<i>n</i> = 344)', 'font-size:19px', 'l');
txt(274, 36, 'Up-regulated', 'font-size:19px', 'l');
txt(274, 61, '(<i>n</i> = 343)', 'font-size:19px', 'l');
txt(16, 238, '\u2212Log<sub style="font-size:12px">10</sub>(FDR)', 'font-size:19px', 'c', -90);
txt(234, 450, 'Log<sub style="font-size:12px">2</sub>(fold change)', 'font-size:19.5px', 'c');
// B
txt(589, 446, '\u2212Log<sub style="font-size:8px">10</sub>(<i>P</i> value)', 'font-size:19.5px', 'c');
// C
txt(76, 503, 'WT', 'font-size:19px', 'c');
txt(130.7, 503, 'KO', 'font-size:19px', 'c');
txt(49.3, 513.3, '', 'width:53.4px;border-top:1.6px solid #111', 'l');
txt(105.3, 513.3, '', 'width:52.7px;border-top:1.6px solid #111', 'l');
txt(26, 879, 'Leukocyte migration', 'font-size:19.5px', 'c', -90);
txt(257, 822, '<i>Z</i> score', 'font-size:19.5px', 'c');
(function () {
  const top = 840, bot = 941, zt = 1.4, zb = -1.15;
  const stops = [];
  for (let i = 0; i <= 20; i++) {
    const z = zt - (zt - zb) * i / 20;
    stops.push(zColor(z) + ' ' + (i * 5) + '%');
  }
  txt(228.3, (top + bot) / 2, '', 'width:17px;height:' + (bot - top) + 'px;border:1.5px solid #222;background:linear-gradient(to bottom,' + stops.join(',') + ')', 'l');
  zTicks.forEach(z => {
    const y = top + (zt - z) / (zt - zb) * (bot - top);
    txt(228.3, y, '', 'width:4px;border-top:1.5px solid #222', 'l');
    txt(244, y, '', 'width:4px;border-top:1.5px solid #222', 'l');
    txt(z < 0 ? 248.5 : 258.3, y, (z < 0 ? '\u2212' : '') + Math.abs(z).toFixed(1), 'font-size:19px', 'l');
  });
})();
// D
const vennLabelColors = ['#7ab4de', '#8e5fb4', '#f08a8e'];
[[927.3, 91.7], [1048.3, 91.7], [987.7, 363.3]].forEach((p, i) =>
  txt(p[0], p[1], vennSets[i], 'font-size:20px;color:' + vennLabelColors[i], 'c').classList.add('ar'));
overlapGenes.forEach((g, i) => {
  const hl = g === 'Cx3cl1';
  const y = i < overlapGenes.length - 1 ? 57.3 + i * 24.35 : 398;
  txt(1180, y, g, 'font-size:19.5px;font-style:italic;' + (hl ? 'color:#c8102e;font-weight:bold;' : ''), 'l').classList.add('ar');
});
// E-H
const cellsTitle = 'CX3CR1<sup style="font-size:13px">+</sup>CD86<sup style="font-size:13px">+</sup> cells (\u00d710<sup style="font-size:13px">5</sup>)';
const migTitle = 'Migration cell number (\u00d710<sup style="font-size:13px">4</sup>)';
const tumTitle = 'Tumor volume (mm<sup style="font-size:14px">3</sup>)';
txt(407.3, 488.5, 'B16-OVA', 'font-size:18.5px', 'c');
txt(620, 488.5, 'MC38', 'font-size:18.5px', 'c');
txt(864, 488.5, 'B16-OVA', 'font-size:18.5px', 'c');
txt(1096.7, 490, 'B16-OVA', 'font-size:18.5px', 'c');
txt(302, 622, cellsTitle, 'font-size:19px', 'c', -90);
txt(520, 622, cellsTitle, 'font-size:19px', 'c', -90);
txt(764, 630, migTitle, 'font-size:19px', 'c', -90);
txt(980, 625, migTitle, 'font-size:19px', 'c', -90);
// I-L
txt(566.7, 810.5, 'B16-OVA', 'font-size:18.5px', 'c');
txt(996.7, 810, 'B16-OVA', 'font-size:18.5px', 'c');
txt(578.3, 1082.5, 'B16-OVA', 'font-size:18.5px', 'c');
txt(1016.7, 1082.5, 'MC38', 'font-size:18.5px', 'c');
txt(392, 924, tumTitle, 'font-size:21px', 'c', -90);
txt(810, 921, tumTitle, 'font-size:21px', 'c', -90);
txt(397, 1197, tumTitle, 'font-size:21px', 'c', -90);
txt(830, 1195, tumTitle, 'font-size:21px', 'c', -90);
txt(585, 1055, 'Days', 'font-size:20px', 'c');
txt(1004.3, 1055, 'Days', 'font-size:20px', 'c');
txt(585, 1331, 'Days', 'font-size:20px', 'c');
txt(1021.7, 1331, 'Days', 'font-size:20px', 'c');
</script>
</body>
</html>
